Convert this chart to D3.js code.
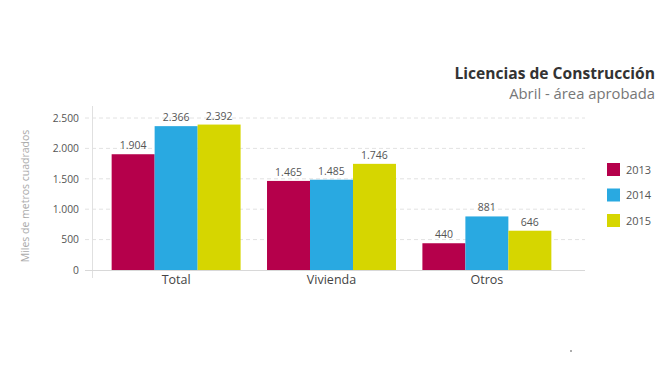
<!DOCTYPE html>
<html><head><meta charset="utf-8">
<script src="https://cdn.jsdelivr.net/npm/d3@7"></script>
<style>body{margin:0;background:#fff;} svg{display:block;font-family:"Open Sans",sans-serif;}</style>
</head><body>
<svg id="c" width="670" height="366"></svg>
<script>
const categories = ["Total", "Vivienda", "Otros"];
const years = ["2013", "2014", "2015"];
const v2013 = [1904, 1465, 440];
const v2014 = [2366, 1485, 881];
const v2015 = [2392, 1746, 646];
const yTicks = [0, 500, 1000, 1500, 2000, 2500];
const colors = ["#b5004b", "#29a9e1", "#d6d600"];
const series = [v2013, v2014, v2015];

const fmt = v => d3.format(",")(v).replace(/,/g, ".");
const svg = d3.select("#c");

const x = d3.scaleBand().domain(categories).range([93, 570]).paddingInner(0.17).paddingOuter(0.12);
const xs = d3.scaleBand().domain(years).range([0, x.bandwidth()]);
const y = d3.scaleLinear().domain([0, 2500]).range([270, 118]);

// gridlines
svg.append("g").selectAll("line").data(yTicks.filter(t => t > 0)).join("line")
  .attr("x1", 85).attr("x2", 585).attr("y1", d => y(d)).attr("y2", d => y(d))
  .attr("stroke", "#e2e2e2").attr("stroke-dasharray", "4,3");

// y axis line
svg.append("line").attr("x1", 92.5).attr("x2", 92.5).attr("y1", 106).attr("y2", 278)
  .attr("stroke", "#e0e0e0");

// y tick labels
const yAxis = d3.axisLeft(y).tickValues(yTicks).tickFormat(fmt).tickSize(0).tickPadding(0);
const ga = svg.append("g").attr("transform", "translate(79,0)").call(yAxis);
ga.select(".domain").remove();
ga.selectAll("text").attr("font-size", 10.3).attr("fill", "#555").attr("font-family", "Open Sans");

// bars
const groups = svg.append("g").selectAll("g").data(categories).join("g")
  .attr("transform", d => `translate(${x(d)},0)`);
groups.each(function(cat, ci) {
  const g = d3.select(this);
  years.forEach((yr, si) => {
    const val = series[si][ci];
    g.append("rect").attr("x", xs(yr)).attr("width", xs.bandwidth())
      .attr("y", y(val)).attr("height", y(0) - y(val)).attr("fill", colors[si]);
    g.append("text").attr("x", xs(yr) + xs.bandwidth() / 2).attr("y", y(val) - 5)
      .attr("text-anchor", "middle").attr("font-size", 10.5).attr("fill", "#555").text(fmt(val));
  });
});

// baseline
svg.append("line").attr("x1", 85).attr("x2", 585).attr("y1", 270.5).attr("y2", 270.5)
  .attr("stroke", "#d8d8d8");

// x labels
const xAxis = d3.axisBottom(x).tickSize(0).tickPadding(0);
const gx = svg.append("g").attr("transform", "translate(0,275)").call(xAxis);
gx.select(".domain").remove();
gx.selectAll("text").attr("font-size", 12.5).attr("fill", "#444").attr("font-family", "Open Sans");

// y title
svg.append("text").attr("transform", "translate(29,196) rotate(-90)").attr("text-anchor", "middle")
  .attr("font-size", 10.5).attr("fill", "#aaa").text("Miles de metros cuadrados");

// title
svg.append("text").attr("x", 655).attr("y", 79).attr("text-anchor", "end")
  .attr("font-size", 15.6).attr("font-weight", "bold").attr("fill", "#333").text("Licencias de Construcción");
svg.append("text").attr("x", 655).attr("y", 99).attr("text-anchor", "end")
  .attr("font-size", 14.8).attr("fill", "#777").text("Abril - área aprobada");

// legend
const leg = svg.append("g").selectAll("g").data(years).join("g")
  .attr("transform", (d, i) => `translate(607,${163 + i * 25.5})`);
leg.append("rect").attr("width", 13).attr("height", 13).attr("fill", (d, i) => colors[i]);
leg.append("text").attr("x", 19).attr("y", 10.5).attr("font-size", 11).attr("fill", "#555").text(d => d);

svg.append("circle").attr("cx", 571).attr("cy", 351).attr("r", 0.8).attr("fill", "#444");
</script>
</body></html>
